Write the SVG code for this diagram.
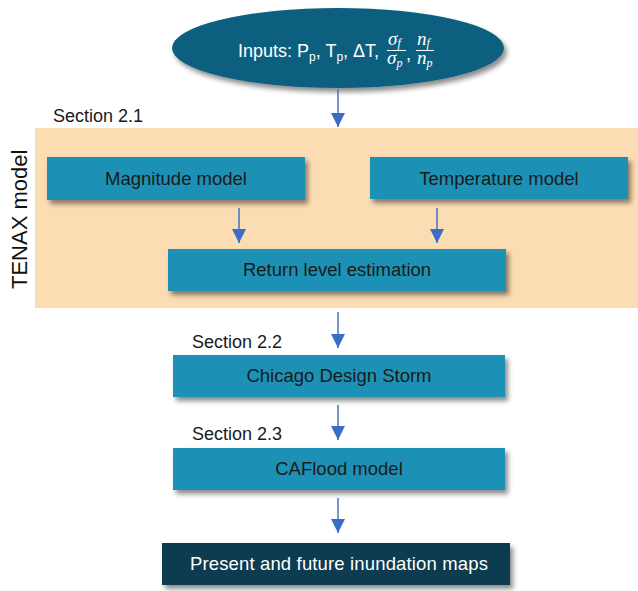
<svg xmlns="http://www.w3.org/2000/svg" width="638" height="591" viewBox="0 0 638 591">
<defs>
<style>
.box{fill:#1B91B5;filter:url(#sh)}
.lbl{font-family:"Liberation Sans",Arial,sans-serif;font-size:18.5px;fill:#1a1a1a;text-anchor:middle}
.sec{font-family:"Liberation Sans",Arial,sans-serif;font-size:18px;fill:#1a1a1a}
.inp{font-family:"Liberation Sans",Arial,sans-serif;font-size:18px;fill:#ffffff}
.m{font-family:"Liberation Serif","Times New Roman",serif;font-style:italic;font-size:19px;fill:#ffffff}
.ms{font-size:12px}
.arr{stroke:#4472C4;stroke-width:1.5;fill:none;marker-end:url(#ah)}
</style>
<filter id="sh" x="-10%" y="-30%" width="125%" height="170%">
<feDropShadow dx="3" dy="4" stdDeviation="2.5" flood-color="#000" flood-opacity="0.45"/>
</filter>
<marker id="ah" markerUnits="userSpaceOnUse" markerWidth="14" markerHeight="14" refX="14" refY="7" orient="auto">
<path d="M0,0 L14,7 L0,14 z" fill="#3A6CC8"/>
</marker>
</defs>
<rect width="638" height="591" fill="#ffffff"/>

<g id="tenax">
<rect x="35" y="128" width="603" height="180" fill="#FCDCB3"/>
<text x="27" y="289" transform="rotate(-90 27 289)" font-family="Liberation Sans,Arial,sans-serif" font-size="22" fill="#111">TENAX model</text>
</g>

<g id="inputs">
<ellipse cx="338" cy="48" rx="166" ry="40" fill="#105E7F" filter="url(#sh)"/>
<text class="inp" x="238" y="57">Inputs: P<tspan class="ms" dy="4">p</tspan><tspan dy="-4">, T</tspan><tspan class="ms" dy="4">p</tspan><tspan dy="-4">, ΔT,</tspan></text>
<text class="m" x="388" y="45">σ<tspan class="ms" dy="2">f</tspan></text>
<line x1="387" y1="50.5" x2="406" y2="50.5" stroke="#fff" stroke-width="1"/>
<text class="m" x="387" y="64">σ<tspan class="ms" dy="3">p</tspan></text>
<text class="inp" x="406" y="60">,</text>
<text class="m" x="417" y="45">n<tspan class="ms" dy="2">f</tspan></text>
<line x1="416" y1="50.5" x2="434" y2="50.5" stroke="#fff" stroke-width="1"/>
<text class="m" x="417" y="64">n<tspan class="ms" dy="3">p</tspan></text>
</g>

<g id="section21"><text class="sec" x="53" y="122">Section 2.1</text></g>

<g id="magnitude">
<rect class="box" x="47" y="157" width="258" height="43"/>
<text class="lbl" x="176" y="185">Magnitude model</text>
</g>
<g id="temperature">
<rect class="box" x="370" y="157" width="258" height="42"/>
<text class="lbl" x="499" y="185">Temperature model</text>
</g>
<g id="returnlevel">
<rect class="box" x="168" y="249" width="338" height="42"/>
<text class="lbl" x="337" y="276">Return level estimation</text>
</g>

<g id="section22"><text class="sec" x="192" y="348">Section 2.2</text></g>
<g id="chicago">
<rect class="box" x="173" y="355" width="332" height="42"/>
<text class="lbl" x="339" y="382">Chicago Design Storm</text>
</g>

<g id="section23"><text class="sec" x="192" y="440">Section 2.3</text></g>
<g id="caflood">
<rect class="box" x="173" y="448" width="332" height="42"/>
<text class="lbl" x="339" y="475">CAFlood model</text>
</g>

<g id="maps">
<rect x="162" y="543" width="348" height="42" fill="#0D3A50" filter="url(#sh)"/>
<text class="lbl" x="339" y="570" style="fill:#ffffff;letter-spacing:0.15px">Present and future inundation maps</text>
</g>

<g id="connectors">
<line class="arr" x1="338" y1="89" x2="338" y2="127"/>
<line class="arr" x1="239" y1="208" x2="239" y2="243"/>
<line class="arr" x1="437" y1="208" x2="437" y2="243"/>
<line class="arr" x1="338" y1="312" x2="338" y2="348"/>
<line class="arr" x1="338" y1="405" x2="338" y2="440"/>
<line class="arr" x1="338" y1="498" x2="338" y2="533"/>
</g>
</svg>
